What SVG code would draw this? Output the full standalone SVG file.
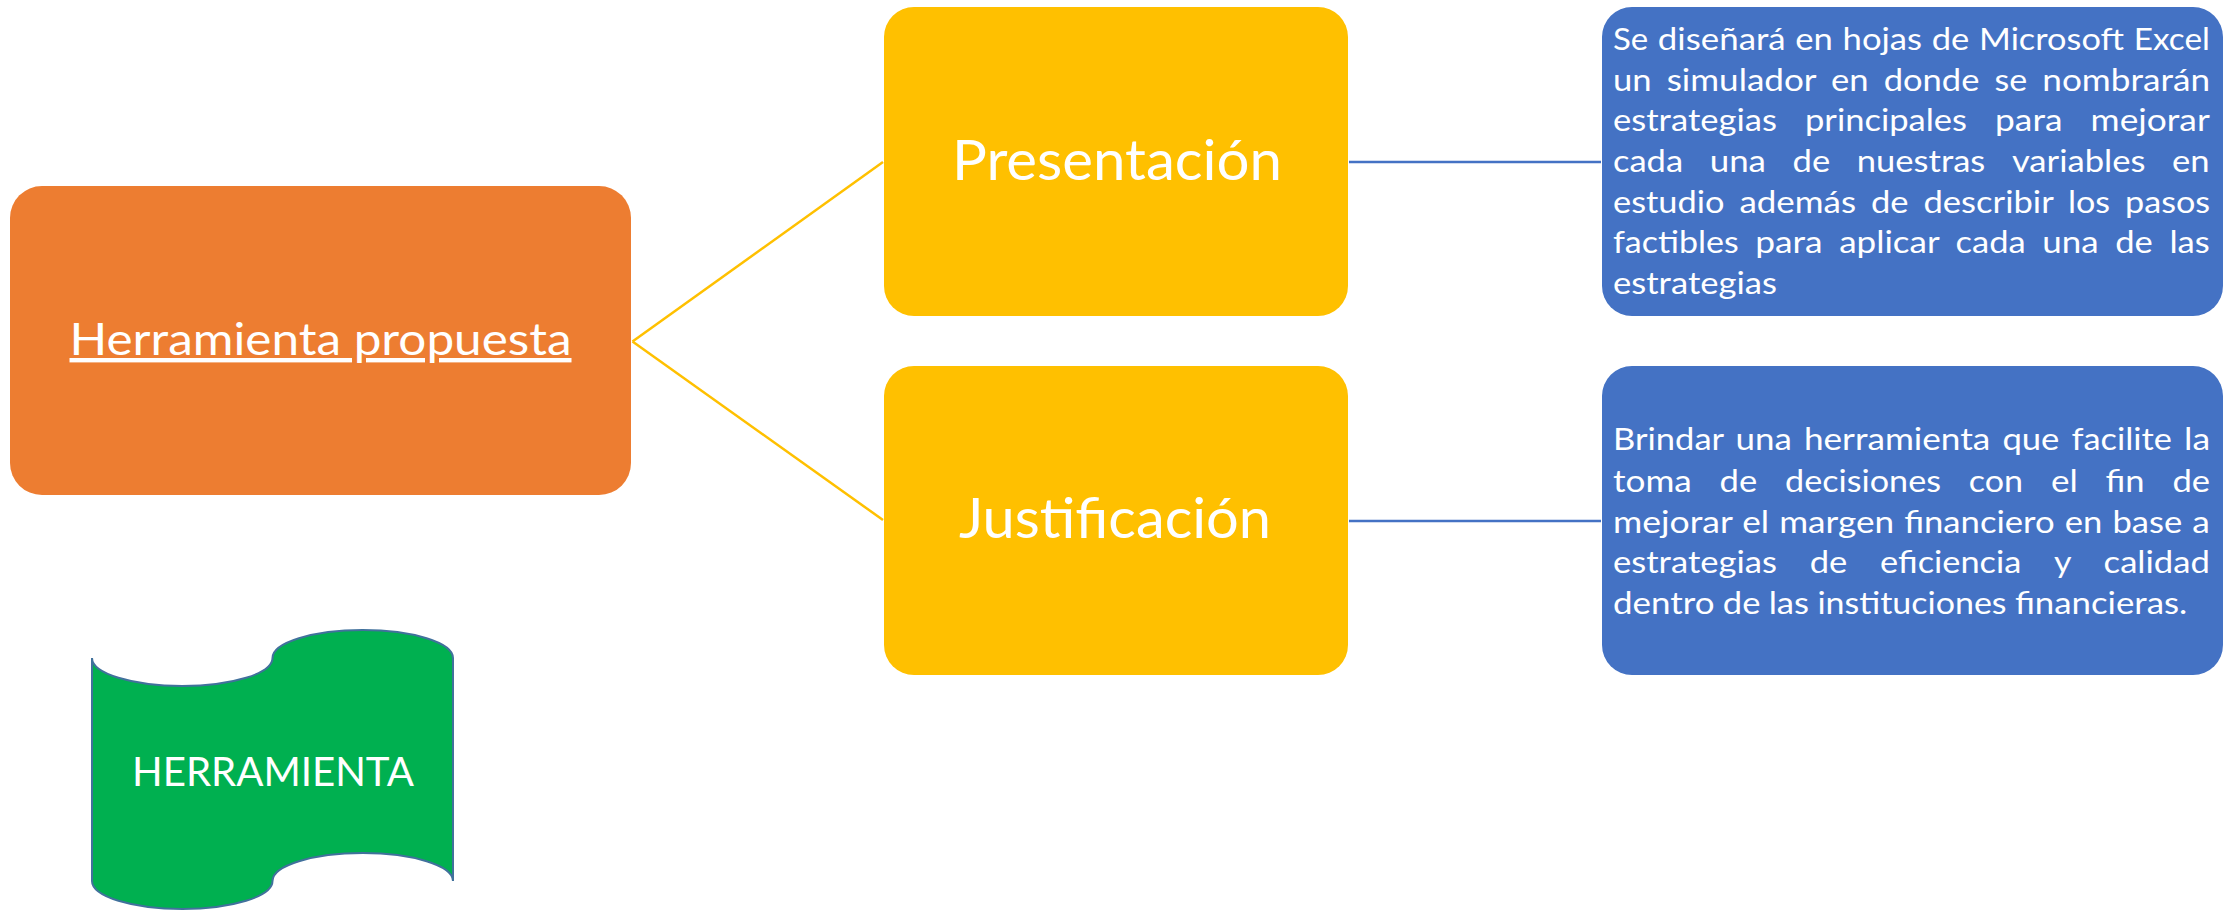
<svg xmlns="http://www.w3.org/2000/svg" width="2231" height="910" viewBox="0 0 2231 910">
<style>
text{font-family:Lato,"Open Sans","Liberation Sans",sans-serif;fill:#FFFFFF}
.big{font-size:56px;text-anchor:middle}
.body{font-size:31px}
.yl{fill:#FFC000}
.bl{fill:#4472C4}
.c1{stroke:#FFC000;stroke-width:2.5;fill:none}
.c2{stroke:#4472C4;stroke-width:2.5;fill:none}
</style>
<rect width="2231" height="910" fill="#FFFFFF"/>
<g id="connectors">
<line class="c1" x1="632.5" y1="341.5" x2="883" y2="162"/>
<line class="c1" x1="632.5" y1="341.5" x2="883" y2="520"/>
<line class="c2" x1="1349" y1="162" x2="1601" y2="162"/>
<line class="c2" x1="1349" y1="521" x2="1601" y2="521"/>
</g>
<g id="herramienta-propuesta">
<rect x="10" y="186" width="621" height="309" rx="32" ry="32" fill="#ED7D31"/>
<text x="320.5" y="355" font-size="44" text-anchor="middle" text-decoration="underline" textLength="502" lengthAdjust="spacingAndGlyphs">Herramienta propuesta</text>
</g>
<g id="presentacion">
<rect class="yl" x="884" y="7" width="464" height="309" rx="30" ry="30"/>
<text class="big" x="1117" y="180" textLength="330" lengthAdjust="spacingAndGlyphs">Presentación</text>
</g>
<g id="justificacion">
<rect class="yl" x="884" y="366" width="464" height="309" rx="30" ry="30"/>
<text class="big" x="1115" y="538" textLength="312" lengthAdjust="spacingAndGlyphs">Justificación</text>
</g>
<g id="descripcion-presentacion">
<rect class="bl" x="1602" y="7" width="621" height="309" rx="30" ry="30"/>
<text class="body" y="50" lengthAdjust="spacingAndGlyphs"><tspan x="1613" textLength="35.2" lengthAdjust="spacingAndGlyphs">Se</tspan> <tspan x="1657.8" textLength="127.9" lengthAdjust="spacingAndGlyphs">diseñará</tspan> <tspan x="1795.3" textLength="37.6" lengthAdjust="spacingAndGlyphs">en</tspan> <tspan x="1842.6" textLength="79.5" lengthAdjust="spacingAndGlyphs">hojas</tspan> <tspan x="1931.7" textLength="37.6" lengthAdjust="spacingAndGlyphs">de</tspan> <tspan x="1979" textLength="145" lengthAdjust="spacingAndGlyphs">Microsoft</tspan> <tspan x="2133.7" textLength="76.2" lengthAdjust="spacingAndGlyphs">Excel</tspan></text>
<text class="body" y="90.7"><tspan x="1613" textLength="38.6" lengthAdjust="spacingAndGlyphs">un</tspan> <tspan x="1666.7" textLength="149.2" lengthAdjust="spacingAndGlyphs">simulador</tspan> <tspan x="1831" textLength="37.6" lengthAdjust="spacingAndGlyphs">en</tspan> <tspan x="1883.7" textLength="95.7" lengthAdjust="spacingAndGlyphs">donde</tspan> <tspan x="1994.5" textLength="32.7" lengthAdjust="spacingAndGlyphs">se</tspan> <tspan x="2042.3" textLength="167.7" lengthAdjust="spacingAndGlyphs">nombrarán</tspan></text>
<text class="body" y="131.3"><tspan x="1613" textLength="163.9" lengthAdjust="spacingAndGlyphs">estrategias</tspan> <tspan x="1805" textLength="162" lengthAdjust="spacingAndGlyphs">principales</tspan> <tspan x="1995.1" textLength="67.4" lengthAdjust="spacingAndGlyphs">para</tspan> <tspan x="2090.6" textLength="119.2" lengthAdjust="spacingAndGlyphs">mejorar</tspan></text>
<text class="body" y="172"><tspan x="1613" textLength="70.1" lengthAdjust="spacingAndGlyphs">cada</tspan> <tspan x="1709.7" textLength="56.3" lengthAdjust="spacingAndGlyphs">una</tspan> <tspan x="1792.6" textLength="37.6" lengthAdjust="spacingAndGlyphs">de</tspan> <tspan x="1856.8" textLength="128.5" lengthAdjust="spacingAndGlyphs">nuestras</tspan> <tspan x="2011.9" textLength="133.6" lengthAdjust="spacingAndGlyphs">variables</tspan> <tspan x="2172.1" textLength="37.6" lengthAdjust="spacingAndGlyphs">en</tspan></text>
<text class="body" y="212.7"><tspan x="1613" textLength="111.5" lengthAdjust="spacingAndGlyphs">estudio</tspan> <tspan x="1739.4" textLength="116.7" lengthAdjust="spacingAndGlyphs">además</tspan> <tspan x="1871" textLength="37.6" lengthAdjust="spacingAndGlyphs">de</tspan> <tspan x="1923.5" textLength="129.5" lengthAdjust="spacingAndGlyphs">describir</tspan> <tspan x="2067.9" textLength="42.2" lengthAdjust="spacingAndGlyphs">los</tspan> <tspan x="2125" textLength="85.1" lengthAdjust="spacingAndGlyphs">pasos</tspan></text>
<text class="body" y="253.3"><tspan x="1613" textLength="125.6" lengthAdjust="spacingAndGlyphs">factibles</tspan> <tspan x="1755.2" textLength="67.4" lengthAdjust="spacingAndGlyphs">para</tspan> <tspan x="1839.2" textLength="99.8" lengthAdjust="spacingAndGlyphs">aplicar</tspan> <tspan x="1955.6" textLength="70.1" lengthAdjust="spacingAndGlyphs">cada</tspan> <tspan x="2042.3" textLength="56.3" lengthAdjust="spacingAndGlyphs">una</tspan> <tspan x="2115.2" textLength="37.6" lengthAdjust="spacingAndGlyphs">de</tspan> <tspan x="2169.4" textLength="40.4" lengthAdjust="spacingAndGlyphs">las</tspan></text>
<text class="body" y="294"><tspan x="1613" textLength="163.9" lengthAdjust="spacingAndGlyphs">estrategias</tspan></text>
</g>
<g id="descripcion-justificacion">
<rect class="bl" x="1602" y="366" width="621" height="309" rx="30" ry="30"/>
<text class="body" y="450"><tspan x="1613" textLength="110.4" lengthAdjust="spacingAndGlyphs">Brindar</tspan> <tspan x="1735.5" textLength="56.3" lengthAdjust="spacingAndGlyphs">una</tspan> <tspan x="1803.9" textLength="186.4" lengthAdjust="spacingAndGlyphs">herramienta</tspan> <tspan x="2002.4" textLength="57" lengthAdjust="spacingAndGlyphs">que</tspan> <tspan x="2071.5" textLength="100.4" lengthAdjust="spacingAndGlyphs">facilite</tspan> <tspan x="2184" textLength="26.1" lengthAdjust="spacingAndGlyphs">la</tspan></text>
<text class="body" y="491.5"><tspan x="1613" textLength="78.8" lengthAdjust="spacingAndGlyphs">toma</tspan> <tspan x="1719.6" textLength="37.6" lengthAdjust="spacingAndGlyphs">de</tspan> <tspan x="1785.1" textLength="155.9" lengthAdjust="spacingAndGlyphs">decisiones</tspan> <tspan x="1968.8" textLength="54.3" lengthAdjust="spacingAndGlyphs">con</tspan> <tspan x="2051" textLength="26.8" lengthAdjust="spacingAndGlyphs">el</tspan> <tspan x="2105.6" textLength="39" lengthAdjust="spacingAndGlyphs">fin</tspan> <tspan x="2172.5" textLength="37.6" lengthAdjust="spacingAndGlyphs">de</tspan></text>
<text class="body" y="532.5"><tspan x="1613" textLength="119.2" lengthAdjust="spacingAndGlyphs">mejorar</tspan> <tspan x="1742.3" textLength="26.8" lengthAdjust="spacingAndGlyphs">el</tspan> <tspan x="1779.2" textLength="114.9" lengthAdjust="spacingAndGlyphs">margen</tspan> <tspan x="1904.2" textLength="150.5" lengthAdjust="spacingAndGlyphs">financiero</tspan> <tspan x="2064.8" textLength="37.6" lengthAdjust="spacingAndGlyphs">en</tspan> <tspan x="2112.5" textLength="69.7" lengthAdjust="spacingAndGlyphs">base</tspan> <tspan x="2192.3" textLength="17.6" lengthAdjust="spacingAndGlyphs">a</tspan></text>
<text class="body" y="573"><tspan x="1613" textLength="163.9" lengthAdjust="spacingAndGlyphs">estrategias</tspan> <tspan x="1809.7" textLength="37.6" lengthAdjust="spacingAndGlyphs">de</tspan> <tspan x="1880.1" textLength="141.2" lengthAdjust="spacingAndGlyphs">eficiencia</tspan> <tspan x="2054.1" textLength="16.7" lengthAdjust="spacingAndGlyphs">y</tspan> <tspan x="2103.6" textLength="106.3" lengthAdjust="spacingAndGlyphs">calidad</tspan></text>
<text class="body" y="613.5"><tspan x="1613" textLength="101.5" lengthAdjust="spacingAndGlyphs">dentro</tspan> <tspan x="1722.8" textLength="37.6" lengthAdjust="spacingAndGlyphs">de</tspan> <tspan x="1768.7" textLength="40.4" lengthAdjust="spacingAndGlyphs">las</tspan> <tspan x="1817.4" textLength="189.2" lengthAdjust="spacingAndGlyphs">instituciones</tspan> <tspan x="2014.9" textLength="172.4" lengthAdjust="spacingAndGlyphs">financieras.</tspan></text>
</g>
<g id="herramienta">
<path d="M92,658 A90.25,28 0 0 0 272.5,658 A90.25,28 0 0 1 453,658 L453,881 A90.25,28 0 0 0 272.5,881 A90.25,28 0 0 1 92,881 Z" fill="#00B050" stroke="#41719C" stroke-width="2"/>
<text x="273" y="786" font-size="40" text-anchor="middle" textLength="282" lengthAdjust="spacingAndGlyphs">HERRAMIENTA</text>
</g>
</svg>
